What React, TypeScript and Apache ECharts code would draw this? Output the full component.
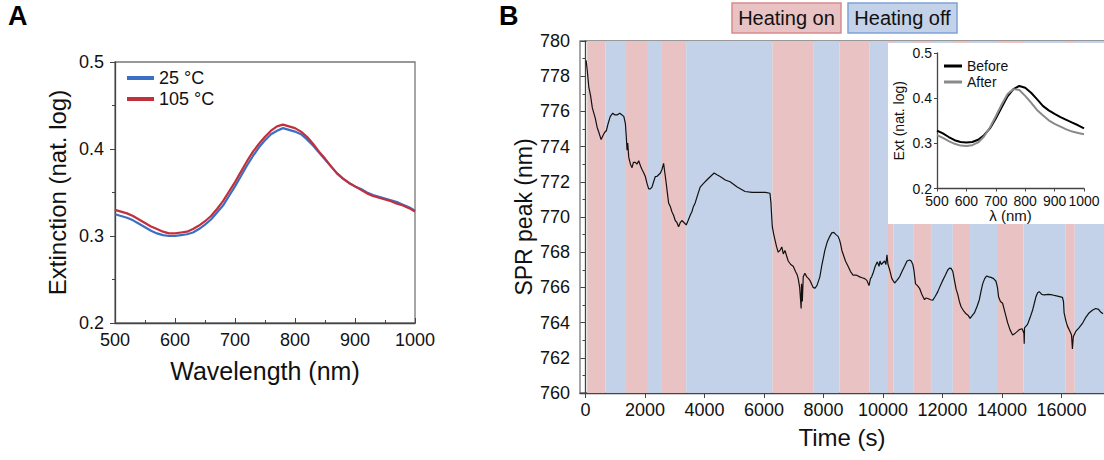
import React, { useEffect, useRef } from "react";
import * as echarts from "echarts";

const FONT = "'Liberation Sans', Arial, Helvetica, sans-serif";

// Panel A: extinction spectra
const wavelengthsA = [500, 510, 520, 530, 540, 550, 560, 570, 580, 590, 600, 610, 620, 630, 640, 650, 660, 670, 680, 690, 700, 710, 720, 730, 740, 750, 760, 770, 780, 790, 800, 810, 820, 830, 840, 850, 860, 870, 880, 890, 900, 910, 920, 930, 940, 950, 960, 970, 980, 990, 1000];
const ext25C = [0.325, 0.323, 0.321, 0.318, 0.314, 0.310, 0.306, 0.303, 0.301, 0.300, 0.300, 0.301, 0.302, 0.304, 0.308, 0.313, 0.319, 0.327, 0.335, 0.346, 0.357, 0.369, 0.381, 0.392, 0.402, 0.410, 0.417, 0.421, 0.424, 0.422, 0.420, 0.417, 0.411, 0.404, 0.396, 0.388, 0.380, 0.372, 0.366, 0.361, 0.357, 0.354, 0.350, 0.347, 0.345, 0.343, 0.341, 0.339, 0.336, 0.333, 0.329];
const ext105C = [0.330, 0.328, 0.326, 0.323, 0.319, 0.315, 0.311, 0.308, 0.305, 0.303, 0.303, 0.304, 0.305, 0.308, 0.312, 0.317, 0.323, 0.331, 0.340, 0.351, 0.362, 0.374, 0.386, 0.397, 0.406, 0.414, 0.421, 0.426, 0.428, 0.426, 0.424, 0.420, 0.414, 0.406, 0.397, 0.389, 0.380, 0.372, 0.366, 0.361, 0.357, 0.353, 0.349, 0.346, 0.344, 0.342, 0.340, 0.337, 0.335, 0.332, 0.328];

// Inset: before / after
const wavelengthsInset = [500, 520, 540, 560, 580, 600, 620, 640, 660, 680, 700, 720, 740, 760, 780, 800, 820, 840, 860, 880, 900, 920, 940, 960, 980, 1000];
const extBefore = [0.328, 0.322, 0.314, 0.307, 0.303, 0.302, 0.303, 0.308, 0.318, 0.333, 0.355, 0.380, 0.404, 0.420, 0.427, 0.423, 0.412, 0.398, 0.383, 0.373, 0.365, 0.358, 0.352, 0.346, 0.340, 0.333];
const extAfter = [0.318, 0.312, 0.305, 0.299, 0.295, 0.294, 0.296, 0.302, 0.315, 0.335, 0.360, 0.386, 0.409, 0.420, 0.418, 0.405, 0.390, 0.374, 0.362, 0.351, 0.343, 0.337, 0.331, 0.326, 0.323, 0.320];

// Panel B: SPR peak vs time
const timeS = [20, 60, 110, 170, 230, 280, 330, 390, 450, 525, 580, 640, 700, 760, 830, 917, 990, 1062, 1150, 1229, 1290, 1341, 1370, 1397, 1420, 1453, 1510, 1565, 1610, 1676, 1730, 1788, 1850, 1900, 1960, 2011, 2070, 2123, 2180, 2235, 2290, 2347, 2400, 2458, 2520, 2570, 2626, 2660, 2700, 2750, 2794, 2850, 2905, 2960, 3017, 3070, 3129, 3190, 3240, 3300, 3386, 3450, 3520, 3576, 3630, 3688, 3760, 3855, 3960, 4079, 4200, 4325, 4420, 4526, 4700, 4861, 5100, 5364, 5600, 5867, 6050, 6202, 6235, 6260, 6280, 6330, 6370, 6425, 6480, 6537, 6600, 6650, 6705, 6760, 6816, 6900, 6984, 7060, 7120, 7151, 7200, 7230, 7250, 7263, 7290, 7320, 7375, 7440, 7500, 7543, 7600, 7654, 7710, 7780, 7840, 7878, 7950, 8000, 8046, 8130, 8213, 8280, 8347, 8420, 8492, 8540, 8571, 8620, 8660, 8740, 8828, 8910, 8995, 9100, 9219, 9300, 9387, 9460, 9532, 9580, 9620, 9666, 9740, 9811, 9870, 9900, 9945, 10000, 10057, 10100, 10135, 10170, 10225, 10300, 10392, 10470, 10560, 10640, 10727, 10810, 10895, 10950, 11006, 11040, 11096, 11160, 11230, 11310, 11398, 11450, 11509, 11600, 11677, 11760, 11845, 11930, 12012, 12100, 12180, 12240, 12292, 12350, 12404, 12460, 12515, 12570, 12627, 12700, 12795, 12870, 12929, 13000, 13074, 13160, 13241, 13300, 13353, 13420, 13487, 13560, 13632, 13720, 13800, 13850, 13889, 13950, 14023, 14100, 14191, 14270, 14358, 14450, 14520, 14583, 14680, 14740, 14750, 14760, 14862, 14950, 15030, 15090, 15141, 15200, 15253, 15340, 15421, 15560, 15700, 15870, 16035, 16070, 16091, 16150, 16203, 16290, 16340, 16370, 16400, 16482, 16590, 16706, 16820, 16929, 17040, 17153, 17250, 17320, 17400];
const sprPeak = [778.9, 778.3, 777.4, 776.9, 776.2, 775.9, 775.6, 775.1, 774.8, 774.4, 774.6, 774.8, 774.9, 775.3, 775.7, 775.9, 775.8, 775.8, 775.9, 775.8, 775.7, 775.3, 774.6, 773.8, 774.2, 773.4, 773.0, 772.8, 773.1, 773.1, 773.0, 773.2, 772.9, 772.7, 772.5, 772.3, 771.9, 771.6, 771.6, 771.7, 772.0, 772.3, 772.3, 772.4, 772.5, 772.7, 773.05, 772.6, 772.1, 771.4, 770.8, 770.6, 770.3, 770.1, 769.8, 769.7, 769.45, 769.7, 769.8, 769.7, 769.55, 769.8, 770.1, 770.3, 770.6, 770.8, 771.2, 771.7, 771.9, 772.1, 772.3, 772.5, 772.4, 772.3, 772.1, 772.0, 771.7, 771.45, 771.4, 771.4, 771.4, 771.35, 770.8, 770.0, 769.45, 769.0, 768.7, 768.3, 768.0, 768.1, 768.3, 767.9, 768.1, 767.8, 767.5, 767.3, 767.2, 766.9, 766.7, 766.5, 766.0, 765.3, 764.8, 766.2, 765.2, 766.6, 766.8, 766.6, 766.5, 766.4, 766.2, 766.0, 765.95, 766.1, 766.4, 766.6, 767.3, 767.7, 768.1, 768.6, 768.9, 769.1, 769.13, 769.0, 768.9, 768.7, 768.5, 768.1, 767.9, 767.5, 767.2, 766.9, 766.7, 766.7, 766.6, 766.55, 766.5, 766.4, 766.1, 766.5, 766.6, 766.8, 767.2, 767.45, 767.2, 767.5, 767.3, 767.4, 767.5, 767.3, 767.85, 767.3, 767.0, 766.5, 766.25, 766.4, 766.6, 766.9, 767.2, 767.5, 767.56, 767.5, 767.3, 767.0, 766.2, 766.1, 765.95, 765.6, 765.3, 765.4, 765.37, 765.3, 765.28, 765.5, 765.76, 766.1, 766.4, 766.7, 766.99, 767.1, 767.08, 766.9, 766.4, 765.9, 765.6, 765.2, 764.9, 764.7, 764.5, 764.4, 764.24, 764.4, 764.55, 764.9, 765.3, 765.8, 766.2, 766.5, 766.65, 766.6, 766.57, 766.5, 766.35, 766.0, 765.45, 765.2, 765.1, 764.6, 764.0, 763.6, 763.3, 763.4, 763.5, 763.6, 763.65, 763.4, 762.8, 763.7, 763.9, 764.3, 764.7, 765.1, 765.45, 765.7, 765.76, 765.6, 765.57, 765.6, 765.57, 765.5, 765.43, 765.2, 764.55, 764.1, 763.8, 763.5, 763.3, 762.5, 763.2, 763.5, 763.7, 763.95, 764.3, 764.55, 764.7, 764.8, 764.75, 764.6, 764.5];

const heatingOn = [[56, 670], [1363, 2067], [2570, 3386], [6280, 7654], [8537, 9554], [10169, 10359], [11040, 11644], [12348, 12929], [13834, 14728], [16147, 16449]];
const heatingOff = [[670, 1363], [2067, 2570], [3386, 6280], [7654, 8537], [9554, 10169], [10359, 11040], [11644, 12348], [12929, 13834], [14728, 16147], [16449, 17500]];
const timeTicks = [0, 2000, 4000, 6000, 8000, 10000, 12000, 14000, 16000];

const PINK = "#e9c3c4";
const BLUE = "#c3d2e8";
const TXT = "#111";

function zip(xs: number[], ys: number[]) {
  return xs.map((x, i) => [x, ys[i]]);
}

export default function App() {
  const ref = useRef<HTMLDivElement>(null);
  useEffect(() => {
    if (!ref.current) return;
    const chart = echarts.init(ref.current, null, { renderer: "svg" });
    const axisLine = { lineStyle: { color: "#444", width: 1.3 } };
    const plain = (v: number) => String(v);
    const oneDec = (v: number) => v.toFixed(1);
    const lbl = (size: number, margin: number, formatter: any) => ({ color: TXT, fontSize: size, fontFamily: FONT, margin, formatter });
    const nameStyle = (size: number) => ({ color: TXT, fontSize: size, fontFamily: FONT });

    const bandData: any[] = [];
    heatingOn.forEach(([s, e]) => bandData.push([{ xAxis: s, itemStyle: { color: PINK } }, { xAxis: e }]));
    heatingOff.forEach(([s, e]) => bandData.push([{ xAxis: s, itemStyle: { color: BLUE } }, { xAxis: e }]));

    const option: any = {
      animation: false,
      textStyle: { fontFamily: FONT },
      grid: [
        { left: 115, top: 62, width: 300, height: 261, show: true, borderColor: "#777", borderWidth: 1.3, backgroundColor: "transparent" },
        { left: 580, top: 41, right: -1, height: 352, show: true, borderColor: "#777", borderWidth: 1.3, backgroundColor: "transparent" },
        { left: 937, top: 53, width: 147, height: 135.5, z: 60 },
      ],
      legend: [
        {
          data: ["25 °C", "105 °C"], orient: "vertical", left: 122, top: 64, icon: "rect",
          itemWidth: 27, itemHeight: 4, itemGap: 3, textStyle: { color: TXT, fontSize: 18, fontFamily: FONT },
        },
        {
          data: ["Before", "After"], orient: "vertical", left: 939, top: 54, icon: "rect", z: 60,
          itemWidth: 18, itemHeight: 3, itemGap: 2, textStyle: { color: TXT, fontSize: 14, fontFamily: FONT },
        },
      ],
      xAxis: [
        {
          gridIndex: 0, type: "value", min: 500, max: 1000, interval: 100,
          axisLine, axisTick: { inside: true, length: 5, lineStyle: { color: "#444" } },
          minorTick: { show: true, splitNumber: 2, length: 3, lineStyle: { color: "#444" } },
          splitLine: { show: false }, axisLabel: lbl(18, 8, plain),
          name: "Wavelength (nm)", nameLocation: "middle", nameGap: 35, nameTextStyle: nameStyle(25),
        },
        {
          gridIndex: 1, type: "value", min: -185, max: 17432,
          axisLine, axisTick: { length: 5, customValues: timeTicks, lineStyle: { color: "#444" } },
          splitLine: { show: false }, axisLabel: { ...lbl(18, 8, plain), customValues: timeTicks },
          name: "Time (s)", nameLocation: "middle", nameGap: 32, nameTextStyle: nameStyle(24),
        },
        {
          gridIndex: 2, type: "value", min: 500, max: 1000, interval: 100, z: 60,
          axisLine, axisTick: { length: 3, lineStyle: { color: "#444" } },
          splitLine: { show: false }, axisLabel: lbl(14, 5, plain),
          name: "λ (nm)", nameLocation: "middle", nameGap: 19, nameTextStyle: nameStyle(15),
        },
      ],
      yAxis: [
        {
          gridIndex: 0, type: "value", min: 0.2, max: 0.5, interval: 0.1,
          axisLine, axisTick: { length: 5, lineStyle: { color: "#444" } },
          minorTick: { show: true, splitNumber: 2, length: 3, lineStyle: { color: "#444" } },
          splitLine: { show: false }, axisLabel: lbl(18, 11, oneDec),
          name: "Extinction (nat. log)", nameLocation: "middle", nameGap: 46, nameTextStyle: nameStyle(24),
        },
        {
          gridIndex: 1, type: "value", min: 760, max: 780, interval: 2,
          axisLine, axisTick: { length: 5, lineStyle: { color: "#444" } },
          minorTick: { show: true, splitNumber: 2, length: 3, lineStyle: { color: "#444" } },
          splitLine: { show: false }, axisLabel: lbl(18, 10, plain),
          name: "SPR peak (nm)", nameLocation: "middle", nameGap: 45, nameTextStyle: nameStyle(23),
        },
        {
          gridIndex: 2, type: "value", min: 0.2, max: 0.5, interval: 0.1, z: 60,
          axisLine, axisTick: { length: 3, lineStyle: { color: "#444" } },
          splitLine: { show: false }, axisLabel: lbl(14, 5, oneDec),
          name: "Ext (nat. log)", nameLocation: "middle", nameGap: 31, nameTextStyle: nameStyle(14),
        },
      ],
      series: [
        {
          name: "25 °C", type: "line", xAxisIndex: 0, yAxisIndex: 0, data: zip(wavelengthsA, ext25C),
          showSymbol: false, color: "#3b6fc6", lineStyle: { width: 2.2, color: "#3b6fc6" },
        },
        {
          name: "105 °C", type: "line", xAxisIndex: 0, yAxisIndex: 0, data: zip(wavelengthsA, ext105C),
          showSymbol: false, color: "#c1303b", lineStyle: { width: 2.2, color: "#c1303b" },
        },
        {
          name: "bands", type: "line", xAxisIndex: 1, yAxisIndex: 1, data: [], z: 1,
          markArea: { silent: true, data: bandData },
        },
        {
          name: "SPR peak", type: "line", xAxisIndex: 1, yAxisIndex: 1, data: zip(timeS, sprPeak), z: 3,
          showSymbol: false, color: "#111", lineStyle: { width: 1.2, color: "#111" },
        },
        {
          name: "Before", type: "line", xAxisIndex: 2, yAxisIndex: 2, data: zip(wavelengthsInset, extBefore), z: 61,
          showSymbol: false, color: "#000", lineStyle: { width: 2, color: "#000" },
        },
        {
          name: "After", type: "line", xAxisIndex: 2, yAxisIndex: 2, data: zip(wavelengthsInset, extAfter), z: 61,
          showSymbol: false, color: "#8a8a8a", lineStyle: { width: 2, color: "#8a8a8a" },
        },
      ],
      graphic: [
        { type: "rect", z: 50, shape: { x: 888, y: 43, width: 220, height: 181 }, style: { fill: "#fff" } },
        { type: "text", left: 8, top: 2, style: { text: "A", fontSize: 27, fontWeight: "bold", fontFamily: FONT, fill: "#000" } },
        { type: "text", left: 499, top: 2, style: { text: "B", fontSize: 27, fontWeight: "bold", fontFamily: FONT, fill: "#000" } },
        { type: "rect", z: 5, shape: { x: 732, y: 3, width: 109, height: 30 }, style: { fill: PINK, stroke: "#d98b8c", lineWidth: 1.5 } },
        { type: "text", z: 6, x: 786.5, y: 18, style: { text: "Heating on", fontSize: 20, fontFamily: FONT, fill: TXT, align: "center", verticalAlign: "middle" } },
        { type: "rect", z: 5, shape: { x: 848, y: 3, width: 109, height: 30 }, style: { fill: BLUE, stroke: "#7fa2d4", lineWidth: 1.5 } },
        { type: "text", z: 6, x: 902.5, y: 18, style: { text: "Heating off", fontSize: 20, fontFamily: FONT, fill: TXT, align: "center", verticalAlign: "middle" } },
      ],
    };
    chart.setOption(option);
    return () => chart.dispose();
  }, []);
  return <div ref={ref} style={{ position: "absolute", left: 0, top: 0, width: 1104, height: 460, background: "#fff" }} />;
}
